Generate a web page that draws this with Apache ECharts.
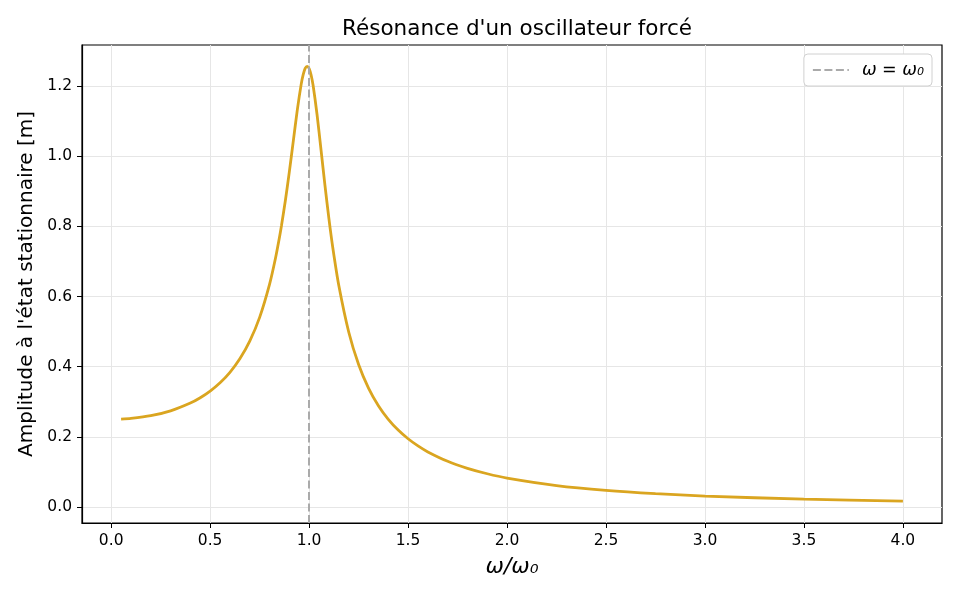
<!DOCTYPE html>
<html>
<head>
<meta charset="utf-8">
<script src="https://cdn.jsdelivr.net/npm/echarts@6/dist/echarts.min.js"></script>
<style>html,body{margin:0;padding:0;background:#fff}#c{width:960px;height:600px}</style>
</head>
<body>
<div id="c"></div>
<script>
var omegaRatio = [0.05,0.1,0.2,0.3,0.4,0.45,0.5,0.55,0.6,0.65,0.7,0.75,0.8,0.83,0.85,0.86,0.88,0.9,0.92,0.94,0.96,0.97,0.98,0.99,1.0,1.01,1.02,1.04,1.06,1.08,1.1,1.12,1.15,1.2,1.25,1.3,1.35,1.4,1.45,1.5,1.55,1.6,1.7,1.8,1.9,2.0,2.25,2.5,2.75,3.0,3.5,4.0];
var amplitude = [0.2506,0.2525,0.2602,0.2741,0.2963,0.3115,0.3304,0.3540,0.3839,0.4223,0.4727,0.5405,0.6346,0.7090,0.7682,0.8011,0.8737,0.9552,1.0430,1.1306,1.2055,1.2327,1.2503,1.2563,1.2500,1.2315,1.2022,1.1189,1.0188,0.9169,0.8220,0.7375,0.6311,0.4988,0.4061,0.3390,0.2888,0.2500,0.2193,0.1945,0.1741,0.1570,0.1302,0.1102,0.0948,0.0826,0.0612,0.0474,0.0380,0.0312,0.0222,0.0166];
var xTicks = [0.0,0.5,1.0,1.5,2.0,2.5,3.0,3.5,4.0];
var yTicks = [0.0,0.2,0.4,0.6,0.8,1.0,1.2];
var resonanceX = 1.0;
var titleText = "Résonance d'un oscillateur forcé";
var xLabel = "ω/ω₀";
var yLabel = "Amplitude à l'état stationnaire [m]";
var legendLabel = "ω = ω₀";

var curve = omegaRatio.map(function(x,i){return [x, amplitude[i]];});
var FONT = 'DejaVu Sans';
var chart = echarts.init(document.getElementById('c'), null, {renderer:'canvas'});
chart.setOption({
  animation:false,
  backgroundColor:'#fff',
  textStyle:{fontFamily:FONT},
  title:{text:titleText,left:512,textAlign:'center',top:13,textStyle:{fontFamily:FONT,fontSize:21.5,fontWeight:'normal',color:'#000'}},
  grid:{left:82,right:18,top:45,bottom:77,containLabel:false,show:true,borderColor:'#000',borderWidth:1.2},
  legend:{
    data:[{name:legendLabel}],
    right:28,top:54,
    backgroundColor:'#fff',borderColor:'#d0d0d0',borderWidth:1,borderRadius:4,
    padding:[7,8,7,8],itemWidth:36,itemHeight:12,itemGap:10,
    itemStyle:{opacity:0},
    lineStyle:{color:'#aaaaaa',width:2,type:[8,3.5]},
    textStyle:{fontFamily:FONT,fontSize:17.5,fontStyle:'italic',color:'#000',padding:[0,0,0,8]}
  },
  xAxis:{
    type:'value',min:-0.1475,max:4.1975,
    name:xLabel,nameLocation:'middle',nameGap:33,
    nameTextStyle:{fontFamily:FONT,fontSize:22,fontStyle:'italic',color:'#000'},
    axisLine:{show:true,onZero:false,lineStyle:{color:'#000',width:1.2}},
    axisTick:{show:true,length:5,customValues:xTicks,lineStyle:{color:'#000'}},
    axisLabel:{customValues:xTicks,margin:10,fontSize:15.5,color:'#000',fontFamily:FONT,formatter:function(v){return v.toFixed(1);}},
    splitLine:{show:true,lineStyle:{color:'#e6e6e6',width:1}}
  },
  yAxis:{
    type:'value',min:-0.0456,max:1.317,
    name:yLabel,nameLocation:'middle',nameGap:45,
    nameTextStyle:{fontFamily:FONT,fontSize:20,color:'#000'},
    axisLine:{show:true,onZero:false,lineStyle:{color:'#000',width:1.2}},
    axisTick:{show:true,length:5,customValues:yTicks,lineStyle:{color:'#000'}},
    axisLabel:{customValues:yTicks,margin:10,fontSize:15.5,color:'#000',fontFamily:FONT,formatter:function(v){return v.toFixed(1);}},
    splitLine:{show:true,lineStyle:{color:'#e6e6e6',width:1}}
  },
  series:[
    {type:'line',name:'amplitude',data:curve,showSymbol:false,symbol:'none',smooth:0.25,
     lineStyle:{color:'#DAA520',width:2.8},itemStyle:{color:'#DAA520'},z:2},
    {type:'line',name:legendLabel,data:[],symbol:'none',
     lineStyle:{color:'#aaaaaa',width:2,type:[8,3.5]},itemStyle:{color:'#aaaaaa'},z:3,
     markLine:{silent:true,symbol:['none','none'],label:{show:false},
       lineStyle:{color:'#aaaaaa',width:2,type:[8,3.5]},
       data:[{xAxis:resonanceX}]}}
  ]
});
</script>
</body>
</html>
